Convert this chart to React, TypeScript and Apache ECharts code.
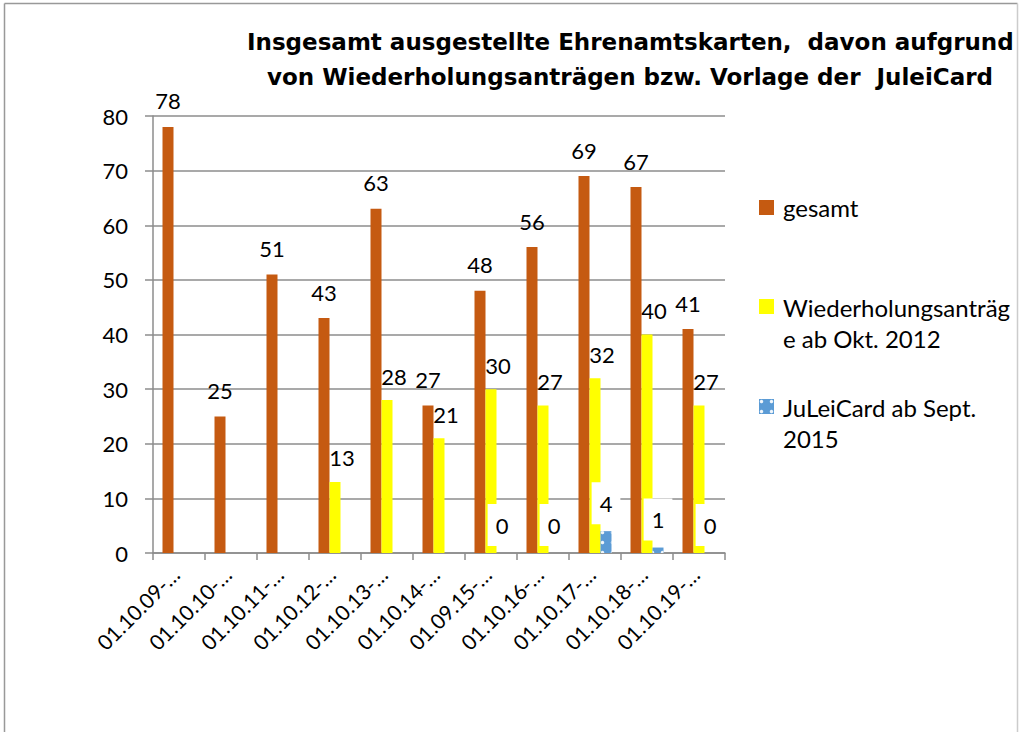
import React, { useEffect, useRef } from "react";
import * as echarts from "echarts";

const categories = [
  "01.10.09-…", "01.10.10-…", "01.10.11-…", "01.10.12-…", "01.10.13-…", "01.10.14-…",
  "01.09.15-…", "01.10.16-…", "01.10.17-…", "01.10.18-…", "01.10.19-…",
];
const gesamt = [78, 25, 51, 43, 63, 27, 48, 56, 69, 67, 41];
const wiederholung = [null, null, null, 13, 28, 21, 30, 27, 32, 40, 27];
const juleicard = [null, null, null, null, null, null, 0, 0, 4, 1, 0];
const seriesNames = ["gesamt", "Wiederholungsanträge ab Okt. 2012", "JuLeiCard ab Sept. 2015"];
const legendTexts = ["gesamt", "Wiederholungsanträg\ne ab Okt. 2012", "JuLeiCard ab Sept.\n2015"];
const titleLines = [
  "Insgesamt ausgestellte Ehrenamtskarten,  davon aufgrund",
  "von Wiederholungsanträgen bzw. Vorlage der  JuleiCard",
];

const FONT = "Lato";
const ORANGE = "#C55A11";
const YELLOW = "#FFFF00";
const BLUE = "#5B9BD5";

export default function App() {
  const ref = useRef<HTMLDivElement>(null);
  useEffect(() => {
    if (!ref.current) return;
    const chart = echarts.init(ref.current, null, { renderer: "svg" });
    const legendBase = {
      orient: "vertical",
      left: 759,
      padding: 0,
      itemWidth: 15,
      itemGap: 10,
      textStyle: { fontFamily: FONT, fontSize: 24, color: "#000", lineHeight: 31, padding: [0, 0, 0, 4] },
      formatter: (name: string) => legendTexts[seriesNames.indexOf(name)],
    };
    const tallIcon = "path://M0,0h15v15h-15z M0,46.99h0.01v0.01h-0.01z";
    const titleBase = {
      padding: 0,
      textStyle: { fontFamily: "DejaVu Sans", fontWeight: "bold", fontSize: 23, lineHeight: 30, color: "#000" },
    };
    chart.setOption({
      animation: false,
      backgroundColor: "#fff",
      title: [
        { ...titleBase, text: titleLines[0], left: 247, top: 27 },
        { ...titleBase, text: titleLines[1], left: 267, top: 62 },
      ],
      legend: [
        { ...legendBase, top: 192, itemHeight: 15, icon: "rect", data: [seriesNames[0]] },
        { ...legendBase, top: 291.5, itemHeight: 47, icon: tallIcon, data: [seriesNames[1]] },
        { ...legendBase, top: 391.5, itemHeight: 47, icon: tallIcon, data: [seriesNames[2]] },
      ],
      grid: { left: 153, right: 294, top: 116, bottom: 179, containLabel: false },
      xAxis: {
        type: "category",
        data: categories,
        axisLine: { show: true, lineStyle: { color: "#8c8c8c", width: 1.5 } },
        axisTick: { show: true, length: 7, lineStyle: { color: "#8c8c8c", width: 1.5 } },
        axisLabel: { rotate: 45, fontFamily: FONT, fontSize: 21, color: "#000", margin: 14, interval: 0, padding: [0, 5, 0, 0] },
      },
      yAxis: {
        type: "value",
        min: 0,
        max: 80,
        interval: 10,
        axisLine: { show: true, lineStyle: { color: "#8c8c8c", width: 1.5 } },
        axisTick: { show: true, length: 8, lineStyle: { color: "#8c8c8c", width: 1.5 } },
        axisLabel: { fontFamily: FONT, fontSize: 22, color: "#000", margin: 25 },
        splitLine: { show: true, lineStyle: { color: "#8c8c8c", width: 1.5 } },
      },
      series: [
        {
          name: seriesNames[0],
          type: "bar",
          data: gesamt,
          barWidth: 11,
          barGap: "0%",
          itemStyle: { color: ORANGE },
          label: { show: true, position: "top", distance: 15, fontFamily: FONT, fontSize: 22, color: "#000" },
        },
        {
          name: seriesNames[1],
          type: "bar",
          data: wiederholung,
          barWidth: 11,
          barGap: "0%",
          itemStyle: { color: YELLOW },
          label: { show: true, position: "top", distance: 13, offset: [7, 0], fontFamily: FONT, fontSize: 22, color: "#000" },
        },
        {
          name: seriesNames[2],
          type: "bar",
          data: juleicard,
          barWidth: 11,
          barGap: "0%",
          itemStyle: {
            color: BLUE,
            decal: { symbol: "circle", symbolSize: 0.7, color: "rgba(255,255,255,0.9)", dashArrayX: 5, dashArrayY: 5 },
          },
          label: {
            show: true,
            position: "top",
            distance: 7,
            fontFamily: FONT,
            fontSize: 22,
            color: "#000",
            backgroundColor: "#fff",
            padding: [10, 8],
          },
        },
      ],
      graphic: [
        { type: "line", shape: { x1: 4.5, y1: 3.5, x2: 1017.5, y2: 3.5 }, style: { stroke: "#999", lineWidth: 1.5 } },
        { type: "line", shape: { x1: 4.5, y1: 3.5, x2: 4.5, y2: 732 }, style: { stroke: "#999", lineWidth: 1.5 } },
        { type: "line", shape: { x1: 1017.5, y1: 3.5, x2: 1017.5, y2: 732 }, style: { stroke: "#ccc", lineWidth: 1.5 } },
      ],
    });
    return () => chart.dispose();
  }, []);
  return <div ref={ref} style={{ position: "absolute", left: 0, top: 0, width: 1019, height: 732 }} />;
}
